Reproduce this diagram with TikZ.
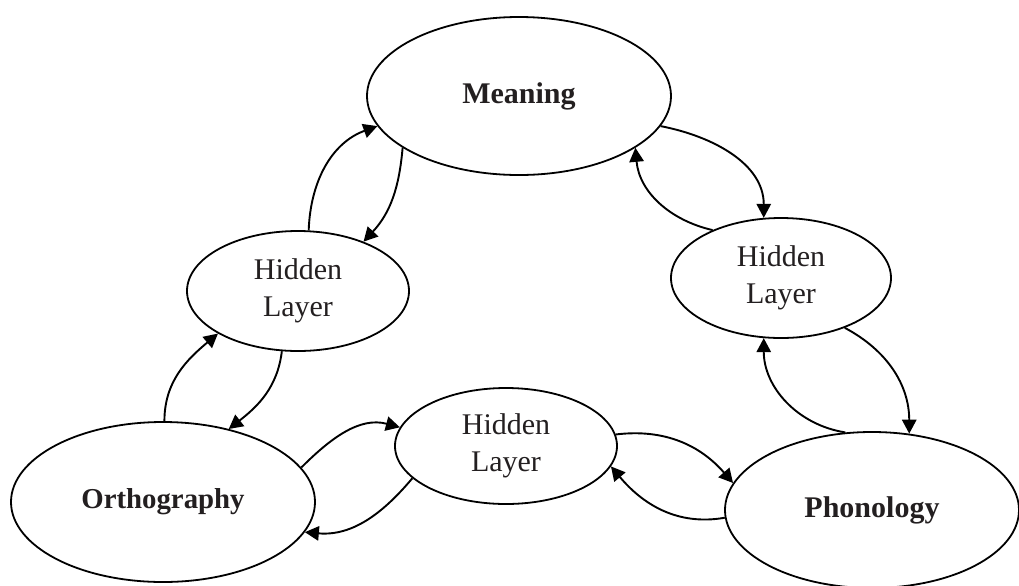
\documentclass[tikz,border=0pt]{standalone}
\usepackage{fontspec}
\setmainfont{Liberation Serif}
\usetikzlibrary{arrows.meta,shapes.geometric}
\definecolor{txt}{RGB}{35,31,32}
\begin{document}
\begin{tikzpicture}[x=0.5pt,y=0.5pt,
  bigell/.style={ellipse, draw, line width=0.9pt, inner sep=0pt, text=txt, font=\fontsize{15}{18.5}\selectfont\bfseries},
  hidell/.style={ellipse, draw, line width=0.9pt, inner sep=0pt, text=txt, align=center, font=\fontsize{15}{18.5}\selectfont},
  conn/.style={line width=0.95pt, -{Triangle[length=7pt,width=7.2pt]}}]
\useasboundingbox (0,0) rectangle (1019,-585);

\node[bigell, minimum width=152pt, minimum height=79pt] (M) at (519,-96) {Meaning};
\node[hidell, minimum width=111pt, minimum height=60pt] (HL) at (298,-291) {Hidden\\Layer};
\node[hidell, minimum width=110pt, minimum height=60pt] (HR) at (781,-278) {Hidden\\Layer};
\node[hidell, minimum width=111pt, minimum height=58pt] (HM) at (506,-446) {Hidden\\Layer};
\node[bigell, minimum width=152pt, minimum height=80pt] (O) at (163,-502) {\fontsize{14.4}{18}\selectfont\bfseries Orthography};
\node[bigell, minimum width=147pt, minimum height=78pt] (P) at (872,-510) {Phonology};

\draw[conn] (HL.80) to[out=88,in=200] (M.192);
\draw[conn] (M.204) to[out=265,in=47] (HL.37);
\draw[conn] (M.348) to[out=-11,in=90] (HR.106);
\draw[conn] (HR.145) to[out=167,in=275] (M.336);
\draw[conn] (O.89) to[out=90,in=220] (HL.208);
\draw[conn] (HL.255) to[out=263,in=38] (O.48);
\draw[conn] (O.14) to[out=45,in=165] (HM.170);
\draw[conn] (HM.199) to[out=230,in=355] (O.348);
\draw[conn] (HM.6) to[out=7,in=131] (P.169);
\draw[conn] (P.183) to[out=190,in=310] (HM.349);
\draw[conn] (HR.322) to[out=-28,in=90] (P.64);
\draw[conn] (P.109) to[out=171,in=270] (HR.254);
\end{tikzpicture}
\end{document}
